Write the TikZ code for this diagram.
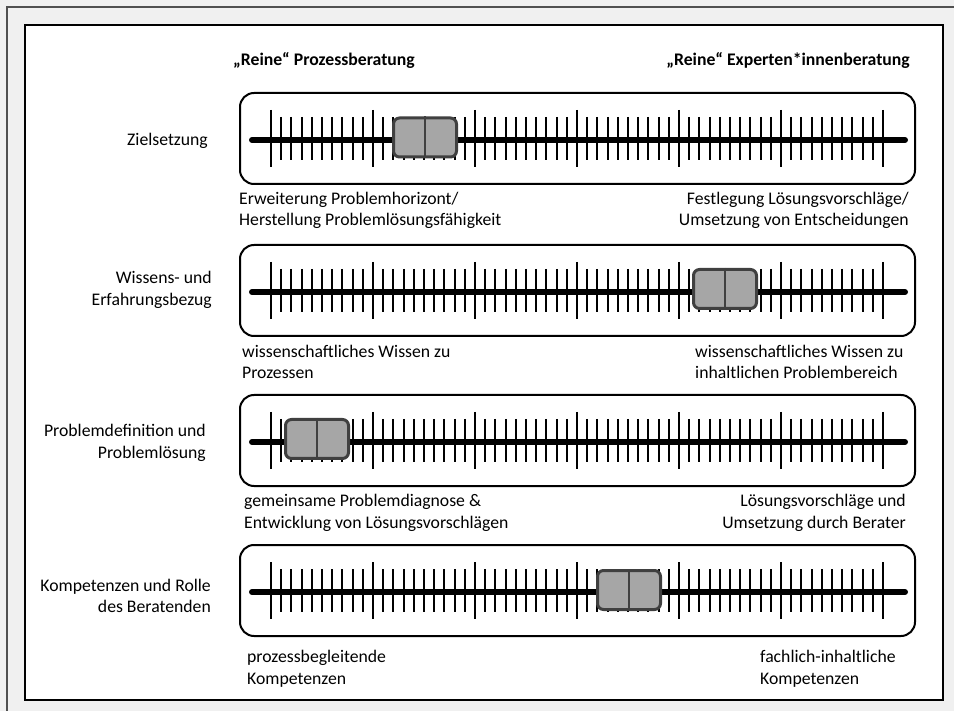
\documentclass[tikz,border=0pt]{standalone}
\usepackage{fontspec}
\setmainfont{Carlito}
\definecolor{bggray}{HTML}{F0F0F0}
\definecolor{frameline}{HTML}{505050}
\definecolor{knobfill}{HTML}{A6A6A6}
\definecolor{knobline}{HTML}{404040}
\begin{document}
\begin{tikzpicture}[x=1pt,y=-1pt,
  txt/.style={font=\fontsize{17.7}{21.5}\selectfont, inner sep=0pt},
  hdr/.style={txt, font=\fontsize{17.7}{21.5}\selectfont\bfseries},
  rowbox/.style={draw=black, line width=2pt, rounded corners=14pt},
  axisline/.style={line width=6pt, line cap=round},
  majortick/.style={line width=2.6pt},
  minortick/.style={line width=1.9pt},
  knob/.style={draw=knobline, fill=knobfill, line width=3pt, rounded corners=6pt,
    minimum width=63pt, minimum height=39pt, inner sep=0pt},
  knobdiv/.style={draw=knobline, line width=1.8pt}
]
\useasboundingbox (0,0) rectangle (954,711);
\clip (0,0) rectangle (954,711);
\fill[bggray] (0,0) rectangle (954,711);
\draw[frameline, line width=1.2pt] (7,720) -- (7,7) -- (960,7);
\draw[fill=white, draw=black, line width=1.5pt] (25,25) rectangle (943,700);

% headers
\node[hdr, anchor=west] (h1) at (233,60) {„Reine“ Prozessberatung};
\node[hdr, anchor=east] (h2) at (910,60) {„Reine“ Experten*innenberatung};

% slider rows
\newcommand\myslider[2]{%
  \draw[rowbox] (240,#1-47) rectangle (915,#1+44);
  \draw[axisline] (252,#1) -- (905,#1);
  \foreach \i in {0,...,60}{%
    \pgfmathsetmacro\xx{271+\i*10.2}%
    \pgfmathtruncatemacro\mm{mod(\i,10)}%
    \ifnum\mm=0
      \draw[majortick] (\xx,#1-30) -- (\xx,#1+27);
    \else
      \draw[minortick] (\xx,#1-23) -- (\xx,#1+20);
    \fi
  }%
}
\myslider{140}{425}
\myslider{292}{725}
\myslider{442}{317}
\myslider{592}{629}

\node[knob] (k1) at (425,137.5) {};
\draw[knobdiv] (k1.north) -- (k1.south);
\node[knob] (k2) at (725,289) {};
\draw[knobdiv] (k2.north) -- (k2.south);
\node[knob] (k3) at (317,439) {};
\draw[knobdiv] (k3.north) -- (k3.south);
\node[knob] (k4) at (629,590) {};
\draw[knobdiv] (k4.north) -- (k4.south);

% row labels
\node[txt, anchor=east] (r1) at (208,141) {Zielsetzung};
\node[txt, anchor=east, align=right] (r2) at (212,290) {Wissens- und\\Erfahrungsbezug};
\node[txt, anchor=east, align=right] (r3) at (206,443) {Problemdefinition und\\Problemlösung};
\node[txt, anchor=east, align=right] (r4) at (211,596) {Kompetenzen und Rolle\\des Beratenden};

% pole labels
\node[txt, anchor=west, align=left] (l1) at (239,210.5) {Erweiterung Problemhorizont/\\Herstellung Problemlösungsfähigkeit};
\node[txt, anchor=east, align=right] (p1) at (909,210.5) {Festlegung Lösungsvorschläge/\\Umsetzung von Entscheidungen};
\node[txt, anchor=west, align=left] (l2) at (242,362) {wissenschaftliches Wissen zu\\Prozessen};
\node[txt, anchor=west, align=left] (p2) at (695,362) {wissenschaftliches Wissen zu\\inhaltlichen Problembereich};
\node[txt, anchor=west, align=left] (l3) at (244,513) {gemeinsame Problemdiagnose \&\\Entwicklung von Lösungsvorschlägen};
\node[txt, anchor=east, align=right] (p3) at (906,513) {Lösungsvorschläge und\\Umsetzung durch Berater};
\node[txt, anchor=west, align=left] (l4) at (247,669) {prozessbegleitende\\Kompetenzen};
\node[txt, anchor=west, align=left] (p4) at (760,669) {fachlich-inhaltliche\\Kompetenzen};
\end{tikzpicture}
\end{document}
